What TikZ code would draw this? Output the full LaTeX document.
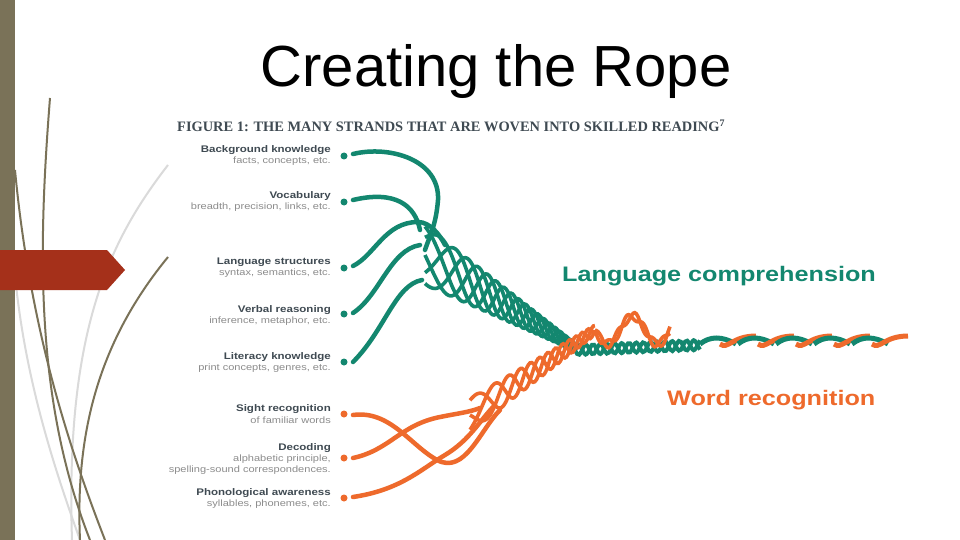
\documentclass[tikz,border=0pt]{standalone}
\usepackage{fontspec}
\setmainfont{Liberation Sans}
\newfontfamily\slab{Liberation Serif}
\newfontfamily\wide[FakeStretch=1.2]{Liberation Sans}
\definecolor{bar}{HTML}{7A7258}
\definecolor{arr}{HTML}{A5301A}
\definecolor{teal}{HTML}{13876F}
\definecolor{orng}{HTML}{EE6A2C}
\definecolor{lgry}{HTML}{DADADA}
\definecolor{dk}{HTML}{3F4A52}
\definecolor{gtxt}{HTML}{8C8C8C}
\begin{document}
\begin{tikzpicture}[x=1pt,y=-1pt,
  lab/.style={anchor=east,inner sep=0pt,font=\wide\fontsize{9.6}{10}\selectfont\bfseries,text=dk},
  sub/.style={anchor=east,inner sep=0pt,font=\wide\fontsize{9.2}{10}\selectfont,text=gtxt},
  tdot/.style={circle,fill=teal,inner sep=0pt,minimum size=7pt},
  odot/.style={circle,fill=orng,inner sep=0pt,minimum size=7pt},
  ts/.style={teal,line width=4.5pt,line cap=round},
  os/.style={orng,line width=4.5pt,line cap=round}]
\useasboundingbox (0,0) rectangle (960,540);
\fill[white] (0,0) rectangle (960,540);
% decorations
\draw[lgry,line width=2pt] (168,165) .. controls (110,240) and (65,330) .. (72,540);
\draw[lgry,line width=2pt] (15,275) .. controls (25,380) and (55,470) .. (80,540);
\draw[bar,line width=2pt] (50,98) .. controls (38,250) and (35,400) .. (90,540);
\draw[bar,line width=2pt] (15,170) .. controls (30,330) and (70,450) .. (105,540);
\draw[bar,line width=2pt] (168,257) .. controls (100,340) and (75,430) .. (80,540);
\fill[bar] (0,0) rectangle (15,540);
\fill[arr] (0,250) -- (107,250) -- (125,270) -- (107,290) -- (0,290) -- cycle;
% title
\node[inner sep=0pt,font=\fontsize{58}{64}\selectfont] (title) at (496,72) {Creating the Rope};
\node[inner sep=0pt,anchor=west,font=\slab\fontsize{14.4}{16}\selectfont\bfseries,text=dk] (fig) at (177,126) {FIGURE 1: THE MANY STRANDS THAT ARE WOVEN INTO SKILLED READING\textsuperscript{7}};
% labels
\node[lab] (l1) at (331,150) {Background knowledge};
\node[sub] (s1) at (331,161) {facts, concepts, etc.};
\node[lab] (l2) at (331,196) {Vocabulary};
\node[sub] (s2) at (331,207) {breadth, precision, links, etc.};
\node[lab] (l3) at (331,262) {Language structures};
\node[sub] (s3) at (331,273) {syntax, semantics, etc.};
\node[lab] (l4) at (331,310) {Verbal reasoning};
\node[sub] (s4) at (331,321) {inference, metaphor, etc.};
\node[lab] (l5) at (331,357) {Literacy knowledge};
\node[sub] (s5) at (331,368) {print concepts, genres, etc.};
\node[lab] (l6) at (331,409) {Sight recognition};
\node[sub] (s6) at (331,420) {of familiar words};
\node[lab] (l7) at (331,448) {Decoding};
\node[sub] (s7) at (331,459) {alphabetic principle,};
\node[sub] (s7b) at (331,470) {spelling-sound correspondences.};
\node[lab] (l8) at (331,493) {Phonological awareness};
\node[sub] (s8) at (331,504) {syllables, phonemes, etc.};
% dots
\node[tdot] (d1) at (344,156) {};
\node[tdot] (d2) at (344,202) {};
\node[tdot] (d3) at (344,268) {};
\node[tdot] (d4) at (344,314) {};
\node[tdot] (d5) at (344,362) {};
\node[odot] (d6) at (344,414) {};
\node[odot] (d7) at (344,458) {};
\node[odot] (d8) at (344,498) {};
% teal strands
\draw[ts] (353,154) .. controls (390,145) and (440,160) .. (438,200) .. controls (436,225) and (430,235) .. (425,250);
\draw[ts] (353,200) .. controls (395,190) and (415,205) .. (420,230);
\draw[ts] (353,266) .. controls (375,255) and (385,222) .. (418,222) .. controls (430,222) and (440,235) .. (445,245);
\draw[ts] (353,313) .. controls (380,295) and (390,250) .. (420,245);
\draw[ts] (353,362) .. controls (385,330) and (395,285) .. (422,280);
% teal braid
\foreach \ph in {0,72,144,216,288}{
  \draw[teal,line width=3.6pt] plot[domain=0:1,samples=90,smooth]
   ({425+150*\x},{255+92*\x + (26*(1-\x)+4)*sin(\ph+360*(1.2*\x+2.5*\x*\x))});
}
\foreach \ph in {0,180}{
  \draw[teal,line width=4pt] plot[domain=575:700,samples=60,smooth]
   (\x,{350-5*(\x-575)/125 + 5*sin(\ph+(\x-575)*25)});
}
% orange strands
\draw[os] (353,415) .. controls (390,410) and (410,445) .. (437,460) .. controls (465,475) and (480,430) .. (500,410);
\draw[os] (353,458) .. controls (390,450) and (400,425) .. (440,417) .. controls (460,413) and (470,412) .. (480,408);
\draw[os] (353,497) .. controls (400,490) and (420,470) .. (445,455) .. controls (470,440) and (480,420) .. (495,405);
% orange braid
\foreach \ph in {0,120,240}{
  \draw[orng,line width=3.6pt] plot[domain=0:1,samples=80,smooth]
   ({470+125*\x},{415-85*\x + (12*(1-\x)+5)*sin(\ph+360*(1.5*\x+3*\x*\x))});
}
\foreach \ph in {0,180}{
  \draw[orng,line width=3.6pt] plot[domain=0:1,samples=50,smooth]
   ({595+75*\x},{330+14*sin(\x*540)+4*sin(\ph+\x*1500)});
}
% twisted rope right
\foreach \k in {0,...,4}{
  \draw[teal,line width=5pt] ({700+38*\k},344) .. controls ({710+38*\k},336) and ({722+38*\k},336) .. ({736+38*\k},344);
  \draw[orng,line width=5pt] ({720+38*\k},344) .. controls ({728+38*\k},350) and ({732+38*\k},336) .. ({718+38*\k+38},336);
}
% labels
\node[inner sep=0pt,anchor=west,font=\wide\fontsize{21}{24}\selectfont\bfseries,text=teal] (lc) at (562,276) {Language comprehension};
\node[inner sep=0pt,anchor=west,font=\wide\fontsize{21}{24}\selectfont\bfseries,text=orng] (wr) at (667,400) {Word recognition};
\end{tikzpicture}
\end{document}
